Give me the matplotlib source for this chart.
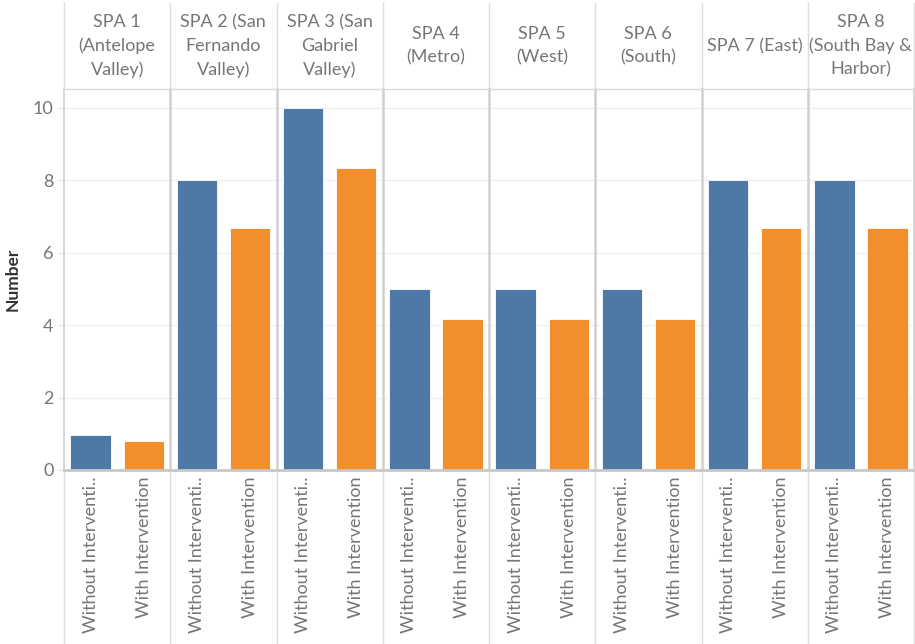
import matplotlib
matplotlib.use("Agg")
import matplotlib.pyplot as plt
from matplotlib.lines import Line2D

plt.rcParams['font.family'] = ['Lato', 'DejaVu Sans']

# Regions (Service Planning Areas) and the two scenarios
regions = ["SPA 1\n(Antelope\nValley)", "SPA 2 (San\nFernando\nValley)",
           "SPA 3 (San\nGabriel\nValley)", "SPA 4\n(Metro)", "SPA 5\n(West)",
           "SPA 6\n(South)", "SPA 7 (East)", "SPA 8\n(South Bay &\nHarbor)"]
scenario_labels = ["Without Interventi..", "With Intervention"]
without_intervention = [0.96, 8, 10, 5, 5, 5, 8, 8]
with_intervention = [0.8, 6.67, 8.33, 4.17, 4.17, 4.17, 6.67, 6.67]
y_ticks = [0, 2, 4, 6, 8, 10]

BLUE = "#4e79a7"
ORANGE = "#f28e2b"
TEXT = "#767676"

W, H = 915, 644
fig = plt.figure(figsize=(W / 100, H / 100), dpi=100)

left_px, right_px = 64, 914
top_px, base_px = 89, 470
n = len(regions)
panel_w = (right_px - left_px) / n

axes = []
for i in range(n):
    x0 = (left_px + i * panel_w) / W
    ax = fig.add_axes([x0, (H - base_px) / H, panel_w / W, (base_px - top_px) / H])
    axes.append(ax)
    vals = [without_intervention[i], with_intervention[i]]
    ax.bar([0, 1], vals, width=0.76, color=[BLUE, ORANGE],
           edgecolor="white", linewidth=0.6, zorder=3)
    ax.set_xlim(-0.5, 1.5)
    ax.set_ylim(0, 10.52)
    ax.set_yticks(y_ticks)
    ax.grid(axis="y", color="#f0f0f0", linewidth=1.0, zorder=0)
    for s in ax.spines.values():
        s.set_visible(False)
    ax.set_xticks([0, 1])
    ax.set_xticklabels(scenario_labels, rotation=90, color=TEXT, fontsize=13)
    ax.tick_params(axis="x", length=0, pad=5)
    for lab in ax.get_xticklabels():
        lab.set_verticalalignment("top")
    if i == 0:
        ax.tick_params(axis="y", length=4.5, color="#dddddd", width=0.8,
                       labelcolor=TEXT, labelsize=13, pad=3)
        ax.set_ylabel("Number", fontsize=12.5, color="#333333",
                      fontweight="bold")
        ax.yaxis.set_label_coords((21 - left_px) / panel_w, 0.5)
    else:
        ax.tick_params(axis="y", left=False, labelleft=False)
    # header text
    ax.text(0.5, 1 + (top_px - 46) / (base_px - top_px), regions[i],
            transform=ax.transAxes, ha="center", va="center",
            fontsize=13, color=TEXT, linespacing=1.55)

# panel separators
for i in range(n + 1):
    x = (left_px + i * panel_w) / W
    fig.add_artist(Line2D([x, x], [(H - 3) / H, (H - top_px) / H],
                          color="#dcdcdc", linewidth=1.0))
    fig.add_artist(Line2D([x, x], [(H - top_px) / H, (H - base_px) / H],
                          color="#d0d0d0", linewidth=1.8 if 0 < i < n else 1.2))
    fig.add_artist(Line2D([x, x], [(H - base_px) / H, 0],
                          color="#dcdcdc", linewidth=1.0))

# header bottom rule and baseline
fig.add_artist(Line2D([left_px / W, right_px / W], [(H - top_px) / H] * 2,
                      color="#dcdcdc", linewidth=1.0))
fig.add_artist(Line2D([left_px / W, right_px / W], [(H - base_px) / H] * 2,
                      color="#c8c8c8", linewidth=2.0, zorder=5))

fig.savefig("out.png", dpi=100)
